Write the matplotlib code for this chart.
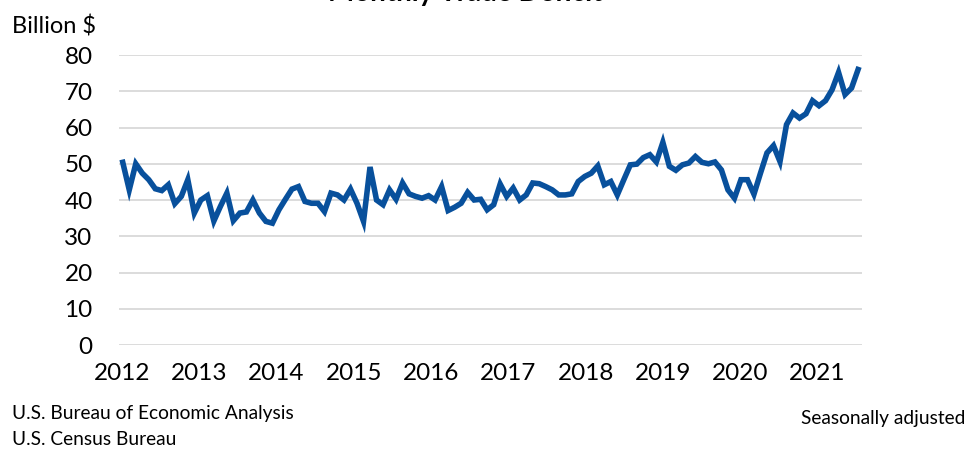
import numpy as np
import matplotlib.pyplot as plt

plt.rcParams['font.family'] = ['Lato', 'DejaVu Sans']

# monthly trade deficit, billion $, Jan 2012 onwards
deficit = [50.4, 42.8, 50.0, 47.4, 45.6, 43.1, 42.6, 44.2, 39.0, 41.0, 45.6, 36.4,
           40.0, 41.2, 34.2, 38.2, 41.9, 34.3, 36.4, 36.7, 40.0, 36.4, 34.1, 33.6,
           37.3, 40.2, 43.0, 43.7, 39.6, 39.1, 39.1, 36.8, 41.9, 41.4, 40.0, 43.0,
           39.1, 34.1, 49.1, 40.0, 38.7, 42.8, 40.2, 44.7, 41.7, 41.0, 40.5, 41.2,
           40.0, 43.7, 37.1, 38.0, 39.1, 42.1, 40.0, 40.2, 37.3, 38.7, 44.4, 41.0,
           43.3, 40.0, 41.4, 44.7, 44.5, 43.7, 42.8, 41.4, 41.4, 41.7, 45.1, 46.5,
           47.4, 49.4, 44.2, 45.1, 41.4, 45.6, 49.7, 49.9, 51.7, 52.5, 50.5, 55.9,
           49.3, 48.2, 49.7, 50.2, 52.0, 50.4, 50.0, 50.5, 48.3, 42.8, 40.5, 45.6,
           45.6, 41.6, 47.4, 53.0, 55.0, 50.6, 60.8, 64.0, 62.6, 63.8, 67.4, 66.0,
           67.4, 70.4, 75.2, 69.1, 70.9, 76.0]
years = ['2012', '2013', '2014', '2015', '2016', '2017', '2018', '2019', '2020', '2021']
yticks = [0, 10, 20, 30, 40, 50, 60, 70, 80]

months = np.arange(len(deficit))

fig = plt.figure(figsize=(9.67, 4.49), dpi=100)
ax = fig.add_axes([0.1231, 0.2316, 0.7683, 0.6459])

ax.plot(months, deficit, color='#08509c', lw=4.0, solid_joinstyle='miter', zorder=3)

ax.set_ylim(0, 80)
ax.set_xlim(-0.57, 113.6)
ax.set_yticks(yticks)
ax.set_xticks(np.arange(len(years)) * 11.88 - 0.15)
ax.set_xticklabels(years)
ax.tick_params(length=0, labelsize=17.5)
ax.tick_params(axis='y', pad=19)
ax.tick_params(axis='x', pad=13)
ax.grid(axis='y', color='#d9d9d9', lw=1.3)
ax.set_axisbelow(True)
for s in ax.spines.values():
    s.set_visible(False)

fig.text(12/967, 1 - 33/449, 'Billion $', fontsize=17, ha='left', va='baseline')
# title sits mostly above the canvas, as in the source image
fig.text(465/967, 1 - 5.5/449, 'Monthly Trade Deficit', fontsize=20, fontweight='bold',
         ha='center', va='bottom')
fig.text(12/967, 1 - 419/449, 'U.S. Bureau of Economic Analysis', fontsize=13.8,
         ha='left', va='baseline')
fig.text(12/967, 1 - 445/449, 'U.S. Census Bureau', fontsize=13.8, ha='left', va='baseline')
fig.text(965/967, 1 - 424/449, 'Seasonally adjusted', fontsize=13.8, ha='right', va='baseline')

fig.savefig('out.png', dpi=100)
